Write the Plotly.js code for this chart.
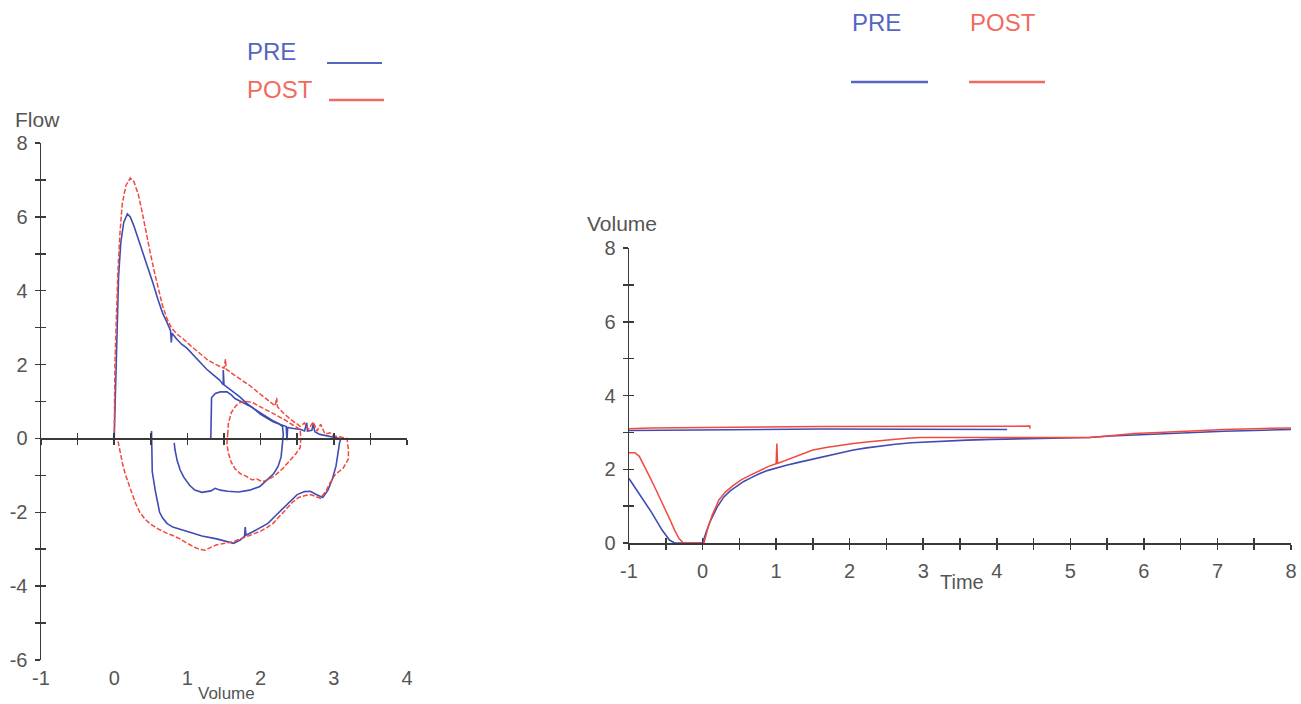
<!DOCTYPE html>
<html>
<head>
<meta charset="utf-8">
<script src="https://cdn.plot.ly/plotly-3.0.1.min.js"></script>
<style>html,body{margin:0;padding:0;background:#fff;}#chart{width:1301px;height:704px;}</style>
</head>
<body>
<div id="chart"></div>
<script>
// ---- Flow-volume loops (left panel) ----
const preLoopVolume = [1.32,1.33,1.38,1.45,1.54,1.60,1.65,1.75,1.85,1.95,2.05,2.15,2.25,2.30,2.31,2.30,2.28,2.24,2.18,2.10,1.99,1.85,1.70,1.55,1.45,1.38,1.32,1.20,1.10,1.03,0.95,0.90,0.86,0.83,0.82,
  null,
  0.51,0.51,0.52,0.56,0.60,0.62,0.66,0.72,0.80,0.90,1.05,1.20,1.40,1.55,1.63,1.72,1.78,1.79,1.80,1.90,2.00,2.10,2.20,2.30,2.40,2.50,2.60,2.68,2.76,2.85,2.92,2.98,3.03,3.05,3.08,3.10,
  null,
  0,0.01,0.02,0.04,0.06,0.09,0.13,0.18,0.22,0.27,0.33,0.40,0.47,0.53,0.60,0.66,0.72,0.77,0.78,0.79,0.85,0.92,0.99,1.08,1.17,1.26,1.35,1.44,1.49,1.49,1.50,1.60,1.72,1.81,1.90,2.00,2.08,2.17,2.27,2.35,2.36,2.37,2.45,2.55,2.60,2.63,2.64,2.70,2.72,2.74,2.81,2.90,3.00,3.08];
const preLoopFlow = [0,1.10,1.22,1.26,1.26,1.18,1.08,0.98,0.88,0.75,0.62,0.50,0.40,0.32,0.10,-0.20,-0.50,-0.75,-0.95,-1.10,-1.30,-1.40,-1.45,-1.43,-1.40,-1.35,-1.42,-1.46,-1.40,-1.27,-1.05,-0.85,-0.60,-0.30,-0.12,
  null,
  0.20,-0.30,-0.90,-1.40,-1.75,-2.00,-2.15,-2.30,-2.40,-2.46,-2.55,-2.64,-2.72,-2.80,-2.84,-2.75,-2.65,-2.40,-2.62,-2.52,-2.42,-2.30,-2.10,-1.90,-1.70,-1.52,-1.44,-1.43,-1.52,-1.60,-1.40,-1.10,-0.75,-0.45,-0.10,0,
  null,
  0,0.80,1.90,3.20,4.40,5.30,5.85,6.08,6.00,5.75,5.40,5.00,4.55,4.20,3.75,3.40,3.15,2.92,2.60,2.85,2.70,2.55,2.45,2.25,2.05,1.88,1.73,1.58,1.45,1.85,1.45,1.30,1.12,0.95,0.82,0.65,0.55,0.45,0.38,0.32,-0.05,0.30,0.27,0.24,0.20,0.42,0.20,0.22,0.40,0.18,0.11,0.07,0.03,0];

const postLoopVolume = [1.55,1.56,1.60,1.66,1.72,1.80,1.88,1.95,2.05,2.15,2.25,2.35,2.45,2.54,2.55,2.54,2.48,2.40,2.31,2.20,2.10,2.02,1.95,1.88,1.80,1.72,1.65,1.60,1.56,1.54,1.55,
  null,
  0,0.005,0.01,0.03,0.05,0.08,0.11,0.16,0.22,0.27,0.33,0.38,0.43,0.49,0.55,0.60,0.66,0.72,0.78,0.86,0.94,1.05,1.17,1.28,1.40,1.50,1.52,1.53,1.63,1.75,1.86,1.97,2.08,2.20,2.22,2.23,2.31,2.42,2.54,2.60,2.65,2.72,2.77,2.82,2.88,2.95,3.00,3.10,3.18,
  3.20,3.20,3.13,3.02,2.95,2.90,2.82,2.76,2.68,2.60,2.52,2.44,2.36,2.26,2.17,2.08,1.99,1.86,1.72,1.62,1.54,1.47,1.40,1.32,1.24,1.16,1.08,0.98,0.90,0.80,0.72,0.60,0.49,0.42,0.35,0.29,0.24,0.19,0.15,0.11,0.08,0.05,0.02];
const postLoopFlow = [0.10,0.40,0.70,0.88,0.97,1.00,0.98,0.90,0.80,0.70,0.60,0.48,0.35,0.25,0,-0.25,-0.42,-0.60,-0.80,-1.00,-1.12,-1.17,-1.10,-1.12,-1.02,-0.95,-0.82,-0.65,-0.40,-0.15,0.10,
  null,
  0,1.0,2.0,3.3,4.5,5.6,6.35,6.85,7.05,6.95,6.60,6.15,5.60,5.05,4.50,4.05,3.60,3.25,3.00,2.82,2.70,2.50,2.30,2.12,1.99,1.90,2.15,1.88,1.73,1.58,1.42,1.24,1.06,0.88,1.10,0.86,0.69,0.50,0.33,0.42,0.24,0.45,0.20,0.38,0.12,0.15,0.07,0.03,0,
  -0.30,-0.55,-0.80,-0.98,-1.20,-1.40,-1.62,-1.58,-1.52,-1.55,-1.60,-1.72,-1.89,-2.10,-2.30,-2.42,-2.52,-2.62,-2.72,-2.80,-2.83,-2.86,-2.88,-2.95,-3.03,-3.00,-2.93,-2.82,-2.72,-2.63,-2.57,-2.45,-2.31,-2.18,-2.00,-1.75,-1.48,-1.20,-0.96,-0.65,-0.34,-0.05,0];

// ---- Volume-time curves (right panel) ----
const preTime = [-1,0.6,1.6,4.14,
  null,
  -1,-0.85,-0.70,-0.55,-0.45,-0.38,0,0.05,0.10,0.20,0.29,0.38,0.47,0.56,0.65,0.77,0.89,1.00,1.14,1.29,1.44,1.60,1.74,1.90,2.05,2.23,2.41,2.62,2.84,3.10,3.32,3.60,3.93,4.30,4.66,5.00,5.26,5.55,5.87,6.20,6.48,6.80,7.09,7.50,8.00];
const preVolume = [3.05,3.07,3.09,3.08,
  null,
  1.75,1.30,0.85,0.35,0.08,0,0,0.30,0.57,0.98,1.25,1.42,1.55,1.67,1.76,1.88,1.97,2.04,2.11,2.18,2.25,2.32,2.38,2.45,2.52,2.58,2.63,2.68,2.72,2.75,2.77,2.79,2.81,2.82,2.84,2.85,2.86,2.90,2.93,2.96,2.99,3.01,3.03,3.05,3.08];

const postTime = [-1,-0.7,1.6,3.0,4.45,4.45,
  null,
  -1,-0.92,-0.86,-0.81,-0.72,-0.63,-0.53,-0.44,-0.38,-0.32,-0.26,0.02,0.07,0.13,0.22,0.31,0.41,0.53,0.65,0.77,0.89,1.00,1.01,1.02,1.10,1.20,1.35,1.50,1.68,1.86,2.05,2.23,2.41,2.59,2.78,2.96,3.44,4.05,4.66,5.26,5.50,5.87,6.20,6.48,6.80,7.09,7.50,8.00];
const postVolume = [3.10,3.12,3.16,3.17,3.17,3.10,
  null,
  2.45,2.45,2.35,2.16,1.80,1.43,1.02,0.62,0.35,0.12,0,0,0.39,0.75,1.16,1.38,1.55,1.72,1.84,1.96,2.07,2.15,2.70,2.16,2.22,2.29,2.41,2.52,2.59,2.65,2.70,2.74,2.78,2.81,2.84,2.86,2.86,2.86,2.86,2.86,2.90,2.97,3.00,3.03,3.06,3.08,3.10,3.12];

// ---- Axis ticks / labels ----
const flowVolXTicks = [-1,0,1,2,3,4];
const flowVolXLabels = ['-1','0','1','2','3','4'];
const flowVolYTicks = [-6,-4,-2,0,2,4,6,8];
const flowVolYLabels = ['-6','-4','-2','0','2','4','6','8'];
const volTimeXTicks = [-1,0,1,2,3,4,5,6,7,8];
const volTimeXLabels = ['-1','0','1','2','3','4','5','6','7','8'];
const volTimeYTicks = [0,2,4,6,8];
const volTimeYLabels = ['0','2','4','6','8'];

const BLUE = '#3f4db3';
const RED = '#f2493f';
const AX = '#3a3a3a';
const TXT = '#555555';
const FONT = 'Liberation Sans, Arial, sans-serif';

const W = 1301, H = 704;
const px = v => v / W;
const py = v => 1 - v / H;

const leftX = [px(41), px(407)];
const leftY = [py(660), py(143)];
const rightX = [px(629), px(1291)];
const rightY = [py(543), py(248)];
const zeroPos = leftY[0] + (0 - (-6)) / 14 * (leftY[1] - leftY[0]);

// invisible helper traces so that the overlay (tick-only) axes get drawn
const helper = (xa, ya) => ({x: [null], y: [null], xaxis: xa, yaxis: ya, mode: 'lines', hoverinfo: 'skip', showlegend: false});

const traces = [
  helper('x3', 'y'), helper('x4', 'y'), helper('x', 'y3'),
  helper('x5', 'y2'), helper('x2', 'y5'),
  {x: preLoopVolume, y: preLoopFlow, xaxis: 'x', yaxis: 'y', mode: 'lines', line: {color: BLUE, width: 1.6}, connectgaps: false, hoverinfo: 'skip'},
  {x: postLoopVolume, y: postLoopFlow, xaxis: 'x', yaxis: 'y', mode: 'lines', line: {color: RED, width: 1.5, dash: '5px,2px'}, connectgaps: false, hoverinfo: 'skip'},
  {x: preTime, y: preVolume, xaxis: 'x2', yaxis: 'y2', mode: 'lines', line: {color: BLUE, width: 1.6}, connectgaps: false, hoverinfo: 'skip'},
  {x: postTime, y: postVolume, xaxis: 'x2', yaxis: 'y2', mode: 'lines', line: {color: RED, width: 1.5}, connectgaps: false, hoverinfo: 'skip'}
];

const tickFont = {family: FONT, size: 20, color: TXT};
const base = {showgrid: false, zeroline: false, automargin: false, fixedrange: true};
const tickStyle = {ticklen: 5, tickwidth: 1.5, tickcolor: AX};

const layout = {
  width: W, height: H, autosize: false,
  margin: {l: 0, r: 0, t: 0, b: 0, pad: 0},
  paper_bgcolor: '#fff', plot_bgcolor: 'rgba(0,0,0,0)',
  showlegend: false,
  font: {family: FONT, color: TXT},
  // left panel
  xaxis: Object.assign({}, base, {domain: leftX, range: [-1, 4], anchor: 'free', position: leftY[0],
    showline: false, ticks: '', tickmode: 'array', tickvals: flowVolXTicks, ticktext: flowVolXLabels, tickfont: tickFont, ticklabelstandoff: 4}),
  yaxis: Object.assign({}, base, tickStyle, {domain: leftY, range: [-6, 8], anchor: 'x',
    showline: true, linecolor: AX, linewidth: 1.5, ticks: 'outside',
    tickmode: 'array', tickvals: flowVolYTicks, ticktext: flowVolYLabels, tickfont: tickFont, ticklabelstandoff: 3,
    minor: Object.assign({dtick: 1, tick0: 0, ticks: 'outside'}, tickStyle)}),
  xaxis3: Object.assign({}, base, tickStyle, {domain: leftX, range: [-1, 4], overlaying: 'x', anchor: 'free', position: zeroPos,
    showline: true, linecolor: AX, linewidth: 1.5, ticks: 'outside', dtick: 0.5, tick0: 0, showticklabels: false}),
  xaxis4: Object.assign({}, base, tickStyle, {domain: leftX, range: [-1, 4], overlaying: 'x', anchor: 'free', position: zeroPos,
    showline: false, ticks: 'inside', dtick: 0.5, tick0: 0, showticklabels: false}),
  yaxis3: Object.assign({}, base, tickStyle, {domain: leftY, range: [-6, 8], overlaying: 'y', anchor: 'x',
    showline: false, ticks: 'inside', dtick: 1, tick0: 0, showticklabels: false}),
  // right panel
  xaxis2: Object.assign({}, base, tickStyle, {domain: rightX, range: [-1, 8], anchor: 'y2',
    showline: true, linecolor: AX, linewidth: 1.5, ticks: 'outside',
    tickmode: 'array', tickvals: volTimeXTicks, ticktext: volTimeXLabels, tickfont: tickFont, ticklabelstandoff: 4,
    minor: Object.assign({dtick: 0.5, tick0: 0, ticks: 'outside'}, tickStyle)}),
  yaxis2: Object.assign({}, base, tickStyle, {domain: rightY, range: [0, 8], anchor: 'x2',
    showline: true, linecolor: AX, linewidth: 1.5, ticks: 'outside',
    tickmode: 'array', tickvals: volTimeYTicks, ticktext: volTimeYLabels, tickfont: tickFont, ticklabelstandoff: 3,
    minor: Object.assign({dtick: 1, tick0: 0, ticks: 'outside'}, tickStyle)}),
  xaxis5: Object.assign({}, base, tickStyle, {domain: rightX, range: [-1, 8], overlaying: 'x2', anchor: 'y2',
    showline: false, ticks: 'inside', dtick: 0.5, tick0: 0, showticklabels: false}),
  yaxis5: Object.assign({}, base, tickStyle, {domain: rightY, range: [0, 8], overlaying: 'y2', anchor: 'x2',
    showline: false, ticks: 'inside', dtick: 1, tick0: 0, showticklabels: false}),
  annotations: [
    {text: 'Flow', xref: 'paper', yref: 'paper', x: px(37), y: py(119), xanchor: 'center', yanchor: 'middle', showarrow: false, font: {family: FONT, size: 21, color: TXT}},
    {text: 'Volume', xref: 'paper', yref: 'paper', x: px(226), y: 0, xanchor: 'center', yanchor: 'bottom', borderpad: 0, showarrow: false, font: {family: FONT, size: 17, color: TXT}},
    {text: 'Volume', xref: 'paper', yref: 'paper', x: px(622), y: py(223), xanchor: 'center', yanchor: 'middle', showarrow: false, font: {family: FONT, size: 21, color: TXT}},
    {text: 'Time', xref: 'paper', yref: 'paper', x: px(962), y: py(582), xanchor: 'center', yanchor: 'middle', showarrow: false, font: {family: FONT, size: 20, color: TXT}},
    {text: 'PRE', xref: 'paper', yref: 'paper', x: px(245), y: py(51), xanchor: 'left', yanchor: 'middle', showarrow: false, font: {family: FONT, size: 24, color: '#5565c2'}},
    {text: 'POST', xref: 'paper', yref: 'paper', x: px(245), y: py(89), xanchor: 'left', yanchor: 'middle', showarrow: false, font: {family: FONT, size: 24, color: '#f26a5e'}},
    {text: 'PRE', xref: 'paper', yref: 'paper', x: px(850), y: py(22), xanchor: 'left', yanchor: 'middle', showarrow: false, font: {family: FONT, size: 24, color: '#5565c2'}},
    {text: 'POST', xref: 'paper', yref: 'paper', x: px(968), y: py(22), xanchor: 'left', yanchor: 'middle', showarrow: false, font: {family: FONT, size: 24, color: '#f26a5e'}}
  ],
  shapes: [
    {type: 'line', xref: 'paper', yref: 'paper', x0: px(327), x1: px(382), y0: py(63), y1: py(63), line: {color: '#5565c2', width: 2}},
    {type: 'line', xref: 'paper', yref: 'paper', x0: px(329), x1: px(384), y0: py(100), y1: py(100), line: {color: '#f26a5e', width: 2.5}},
    {type: 'line', xref: 'paper', yref: 'paper', x0: px(851), x1: px(928), y0: py(82), y1: py(82), line: {color: '#5565c2', width: 2.5}},
    {type: 'line', xref: 'paper', yref: 'paper', x0: px(969), x1: px(1045), y0: py(82), y1: py(82), line: {color: '#f26a5e', width: 2.5}}
  ]
};

Plotly.newPlot('chart', traces, layout, {staticPlot: true, displayModeBar: false});
</script>
</body>
</html>
